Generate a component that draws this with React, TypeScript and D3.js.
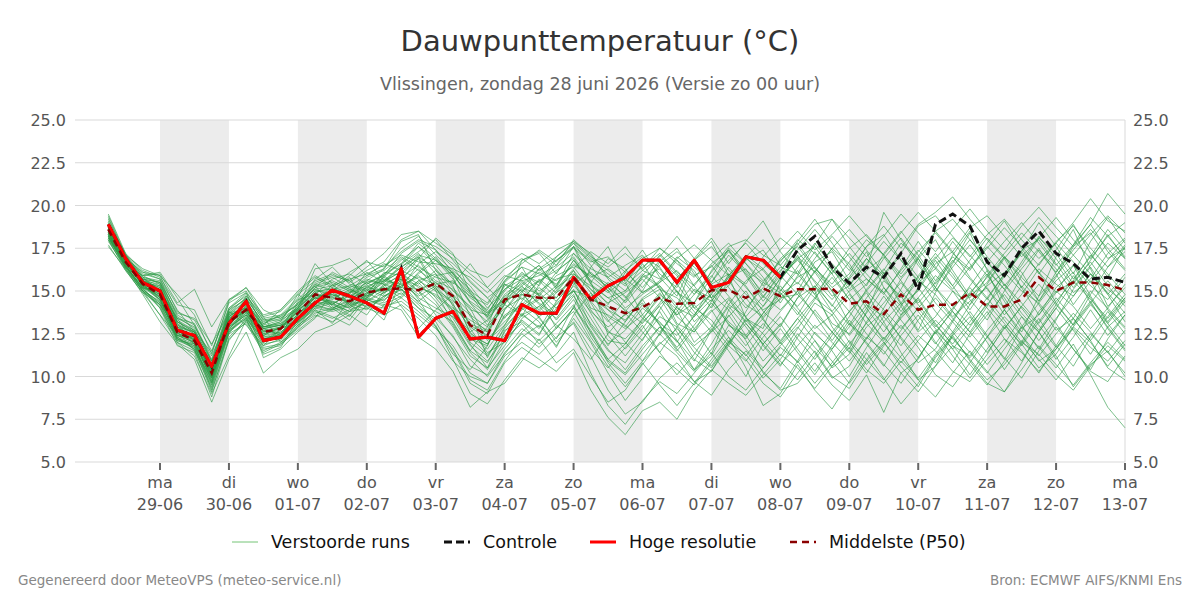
import React from "react";
import * as d3 from "d3";

// Forecast steps: every 6 hours from 28-06 06:00; hours are counted from 29-06 00:00.
const FIRST_HOUR = -18;
const STEP_HOURS = 6;
const STEP_COUNT = 60;
const forecastHours: number[] = d3.range(STEP_COUNT).map((i) => FIRST_HOUR + i * STEP_HOURS);

// Visible time window (hours from 29-06 00:00)
const X_START_HOUR = -29.6;
const X_END_HOUR = 336;

const dayNames = ["ma", "di", "wo", "do", "vr", "za", "zo", "ma", "di", "wo", "do", "vr", "za", "zo", "ma"];
const dayDates = ["29-06", "30-06", "01-07", "02-07", "03-07", "04-07", "05-07", "06-07", "07-07", "08-07", "09-07", "10-07", "11-07", "12-07", "13-07"];
const shadedDays = [0, 2, 4, 6, 8, 10, 12];
const yTicks = [5, 7.5, 10, 12.5, 15, 17.5, 20, 22.5, 25];

// High resolution run (10 days)
const hresRun = [
  18.9, 16.9, 15.5, 15.0, 12.7, 12.4, 10.6, 13.1, 14.4, 12.1,
  12.3, 13.4, 14.3, 15.05, 14.7, 14.3, 13.7, 16.3, 12.3, 13.4,
  13.8, 12.2, 12.3, 12.1, 14.2, 13.7, 13.7, 15.8, 14.5, 15.3,
  15.8, 16.8, 16.8, 15.5, 16.8, 15.2, 15.5, 17.0, 16.8, 15.8,
];

// Control run
const controlRun = [
  18.9, 16.9, 15.5, 15.0, 12.7, 12.4, 10.6, 13.1, 14.4, 12.1,
  12.3, 13.4, 14.3, 15.05, 14.7, 14.3, 13.7, 16.3, 12.3, 13.4,
  13.8, 12.2, 12.3, 12.1, 14.2, 13.7, 13.7, 15.8, 14.5, 15.3,
  15.8, 16.8, 16.8, 15.5, 16.8, 15.2, 15.5, 17.0, 16.8, 15.8,
  17.4, 18.2, 16.4, 15.45, 16.4, 15.8, 17.2, 15.05, 18.9, 19.5,
  18.8, 16.7, 15.9, 17.5, 18.5, 17.2, 16.6, 15.7, 15.8, 15.5,
];

// Ensemble median
const medianRun = [
  18.6, 16.7, 15.4, 14.8, 12.6, 12.1, 10.2, 13.2, 13.9, 12.6,
  12.8, 13.7, 14.8, 14.6, 14.4, 14.9, 15.1, 15.15, 15.05, 15.45,
  14.7, 13.0, 12.4, 14.5, 14.8, 14.6, 14.6, 15.8, 14.5, 14.1,
  13.7, 14.05, 14.6, 14.25, 14.3, 15.05, 15.05, 14.6, 15.15, 14.7,
  15.1, 15.1, 15.15, 14.25, 14.4, 13.65, 14.8, 13.9, 14.2, 14.2,
  14.9, 14.1, 14.1, 14.5, 15.8, 15.0, 15.5, 15.5, 15.35, 15.05,
];

// Perturbed ensemble members
const perturbedRuns: number[][] = [
  [18.9,16.9,15.6,15.2,12.9,12.3,10.0,13.5,14.2,12.4, 12.9,13.9,15.0,14.9,14.2,15.3,15.6,16.4,17.2,16.0, 14.1,12.2,11.8,13.9,15.2,14.8,13.6,15.4,16.1,15.2, 14.4,15.8,16.3,15.0,13.2,14.1,16.0,15.3,13.8,12.9, 14.6,16.2,15.0,13.1,12.2,14.0,15.7,16.9,15.2,13.8, 12.6,14.1,15.9,17.2,16.1,14.3,13.0,14.8,16.4,17.3],
  [18.2,16.5,15.1,14.3,12.2,11.8,9.6,12.9,13.6,12.0, 12.5,13.2,14.5,15.1,14.8,14.0,14.6,15.5,14.3,13.8, 13.2,11.5,10.8,12.6,13.9,14.5,15.3,16.8,15.6,12.4, 11.2,12.5,13.8,12.1,10.9,12.7,14.2,13.5,11.8,10.6, 12.3,13.9,12.6,11.4,13.2,14.7,13.3,12.0,10.8,12.5, 13.8,12.4,11.0,12.9,14.3,13.1,11.6,10.4,12.2,13.6],
  [19.3,17.0,16.0,15.7,13.5,12.8,10.8,13.8,14.6,13.1, 13.4,14.3,15.4,15.8,15.2,15.6,16.3,17.5,18.2,17.1, 16.2,15.3,14.0,15.1,16.0,15.5,16.4,17.2,16.3,15.8, 16.5,17.1,16.0,15.2,16.8,17.6,16.2,15.4,17.0,18.1, 17.3,16.1,17.5,18.6,17.4,16.0,17.2,18.8,19.4,18.2, 17.0,18.3,19.2,18.0,16.9,17.8,19.0,20.4,19.1,18.5],
  [18.0,16.3,15.0,14.1,12.0,11.2,9.0,11.2,13.3,11.5, 12.0,12.8,13.9,13.5,13.0,14.2,14.0,14.6,13.8,12.9, 11.6,9.8,9.2,10.9,12.3,13.0,11.8,13.4,12.0,10.2, 8.6,9.9,11.2,10.4,9.5,10.8,12.1,11.0,9.6,8.8, 10.2,11.5,10.0,9.3,10.9,12.0,10.6,9.4,11.1,12.3, 11.0,9.8,10.7,12.0,11.3,10.1,9.2,10.6,11.8,10.9],
  [18.7,16.8,15.8,15.0,13.0,12.5,10.4,13.0,14.0,12.8, 13.0,13.5,14.6,14.2,14.9,15.3,14.8,16.0,15.4,16.2, 15.0,14.1,13.2,14.8,15.6,15.9,16.5,17.6,16.0,15.2, 14.0,14.8,15.5,16.2,15.0,14.4,15.8,16.9,16.2,15.0, 16.4,17.8,16.5,15.1,16.2,17.0,15.6,14.3,15.5,16.8, 15.7,14.5,16.0,17.4,18.0,16.6,15.2,16.5,17.8,16.9],
  [18.4,16.6,15.5,14.6,12.4,12.0,10.1,13.3,13.8,12.5, 12.7,14.0,14.9,14.3,13.6,14.5,15.4,15.0,16.1,17.0, 15.8,13.5,12.6,14.2,13.6,14.1,15.0,16.2,14.9,13.5, 12.8,13.6,14.9,13.5,12.6,13.8,14.6,13.2,14.1,15.3, 14.0,12.8,13.6,14.8,13.5,12.2,13.4,14.5,13.0,11.9, 13.2,14.6,13.3,12.0,13.8,15.0,14.1,12.8,14.0,15.4],
  [19.0,17.1,15.9,16.0,14.3,15.1,12.9,14.5,15.0,13.4, 13.6,14.6,16.6,15.4,14.6,15.0,15.8,16.8,17.6,16.5, 15.3,12.8,11.4,12.0,13.3,12.5,14.0,15.1,13.0,11.6, 10.4,11.8,12.9,11.5,12.8,13.9,12.3,11.2,12.6,13.8, 15.0,13.6,12.1,13.5,15.1,16.3,15.0,13.8,12.5,13.9, 15.3,16.7,15.4,14.0,12.7,14.2,15.9,14.6,13.1,14.4],
  [18.5,16.8,15.3,14.5,12.3,11.6,9.4,12.6,13.5,11.8, 12.2,13.1,14.0,13.8,14.1,14.6,14.3,14.9,14.0,13.0, 11.0,9.0,8.4,9.8,11.1,10.5,11.3,12.6,10.2,8.3, 7.2,8.6,9.7,9.0,10.2,11.4,10.0,9.2,10.5,11.7, 10.9,9.6,10.8,12.1,11.0,9.8,11.2,12.4,11.5,10.3, 9.7,11.0,12.2,11.4,10.3,11.6,12.8,11.7,10.9,12.1],
  [18.8,16.9,15.7,15.5,13.2,12.6,10.6,13.6,14.4,12.9, 13.2,14.1,15.2,15.5,15.0,15.8,16.2,17.0,16.4,15.8, 15.5,14.7,14.2,15.6,16.4,16.0,15.4,16.6,15.8,16.3, 15.6,16.4,17.2,16.1,15.3,16.6,17.4,16.2,15.5,16.8, 17.6,16.3,15.4,16.7,18.0,17.1,16.0,17.3,18.4,17.2, 16.3,17.5,18.7,17.6,16.5,17.9,18.8,17.5,16.4,17.7],
  [18.3,16.4,15.2,14.9,12.7,12.2,10.3,12.8,13.7,12.3, 12.6,13.4,14.4,14.0,14.5,15.1,14.7,15.3,15.9,15.1, 14.4,13.6,12.9,14.0,14.6,13.8,14.9,15.6,14.6,13.9, 13.3,14.5,15.1,14.6,13.6,14.9,15.6,14.2,13.5,14.8, 15.5,14.6,13.8,15.0,15.7,14.9,13.6,14.6,15.9,15.0, 14.2,15.3,16.1,15.0,14.3,15.6,16.5,15.3,14.5,15.8],
  [18.6,16.6,15.4,14.4,12.5,12.3,10.2,13.1,13.9,12.6, 12.8,13.8,14.7,14.8,14.4,15.2,15.0,15.6,14.8,15.9, 16.1,14.9,13.8,14.5,15.3,14.2,13.4,14.7,13.1,11.9, 12.7,14.0,13.2,12.0,13.6,14.8,13.9,12.4,13.7,14.9, 13.8,12.5,11.6,12.9,14.2,13.0,11.8,13.3,14.6,13.4, 12.3,13.6,14.8,13.5,12.1,13.4,14.7,16.0,14.9,13.7],
  [18.1,16.4,15.0,14.2,12.1,11.9,9.9,12.7,13.4,12.2, 12.4,13.5,14.2,14.5,15.1,14.7,15.2,14.8,15.6,16.0, 14.8,12.5,11.9,13.5,14.1,14.9,14.0,15.3,14.3,12.7, 11.6,12.8,14.2,15.0,13.8,12.6,13.5,14.6,13.3,12.1, 13.4,14.6,15.8,14.5,13.1,14.3,15.5,14.2,12.9,14.0, 15.2,14.0,12.8,14.1,15.4,14.2,13.0,14.3,15.6,14.4],
  [19.5,17.2,16.2,15.8,14.2,13.9,11.8,14.5,15.2,13.5, 13.8,14.8,15.6,16.0,15.5,16.2,16.7,18.0,18.5,17.8, 17.1,16.2,15.8,16.5,17.2,16.6,17.4,17.9,17.0,16.4, 17.2,16.3,17.5,16.8,15.9,16.4,17.6,18.0,17.1,16.5, 17.7,18.9,19.2,18.1,17.0,18.2,19.5,18.4,17.3,18.6, 19.8,18.5,17.4,18.8,19.9,18.7,17.6,18.9,20.7,19.5],
  [18.5,16.7,15.3,14.7,12.8,12.4,10.5,13.4,14.1,12.7, 12.9,13.6,14.6,14.4,14.0,14.8,15.5,16.2,15.7,14.6, 13.4,11.8,10.9,12.2,13.1,11.9,12.8,14.0,12.6,10.8, 9.6,10.9,11.9,12.8,11.7,10.6,12.0,13.1,11.9,10.7, 11.8,13.0,12.0,10.9,12.2,13.5,12.3,11.1,12.6,13.8, 12.6,11.4,12.8,14.1,13.0,11.7,12.9,14.2,13.1,11.8],
  [18.9,16.9,15.5,15.3,13.1,12.0,10.0,13.3,14.3,12.2, 12.3,14.3,15.1,14.7,14.9,15.5,15.9,16.6,17.8,16.9, 16.0,15.1,13.5,15.0,16.1,15.3,16.8,17.5,16.7,17.0, 16.1,15.2,16.5,17.3,16.4,15.5,16.8,17.8,16.6,15.7, 16.9,17.6,16.2,15.3,16.6,17.9,16.8,15.6,16.9,18.1, 17.1,15.9,17.2,18.4,17.3,16.1,17.4,18.6,17.5,16.3],
  [18.2,16.5,15.2,14.0,11.8,11.4,8.8,12.2,13.2,11.6, 11.8,12.9,13.6,13.2,13.8,14.0,13.6,14.2,13.4,12.4, 10.9,10.0,9.6,11.2,12.0,11.3,12.3,13.1,11.2,9.2, 7.8,8.5,9.9,10.8,9.7,8.9,10.4,11.5,10.3,9.2, 9.6,10.8,9.5,8.6,10.1,7.9,10.2,9.1,10.6,11.8, 10.7,9.5,10.9,12.1,11.0,9.8,11.2,12.5,11.4,10.2],
  [18.7,16.9,15.6,15.1,12.7,12.1,10.3,13.7,14.0,12.9, 13.1,13.7,14.3,14.9,15.3,15.0,15.7,15.2,16.6,17.3, 16.6,15.6,14.6,15.4,14.5,15.6,16.2,16.9,15.4,14.6, 15.0,16.0,15.3,14.2,15.4,16.5,15.2,14.0,15.2,16.4, 16.0,14.8,16.1,17.2,16.0,14.9,16.2,17.4,16.3,15.1, 16.4,17.6,16.5,15.2,16.6,17.8,16.7,15.5,16.8,18.0],
  [18.4,16.6,15.4,14.5,12.4,12.0,9.8,12.9,13.8,12.4, 12.6,13.3,14.4,14.2,13.8,14.4,14.9,15.4,14.7,15.3, 14.2,12.9,12.2,13.2,14.3,13.5,14.2,15.0,13.8,12.9, 13.6,14.3,13.1,12.4,13.5,14.5,13.2,12.3,13.4,14.6, 14.8,13.7,12.6,13.8,15.0,13.9,12.8,14.0,15.2,14.1, 13.0,14.2,15.4,14.3,13.1,14.4,15.6,14.5,13.4,14.6],
  [18.8,17.0,15.9,15.4,13.3,12.7,10.6,13.9,14.5,13.2, 13.5,14.2,15.3,15.6,15.1,14.6,15.3,16.0,15.2,14.8, 14.0,13.3,12.7,14.6,15.5,14.7,15.9,16.4,15.1,14.3, 14.9,15.7,14.6,13.6,14.8,15.9,14.7,13.5,14.7,15.9, 16.8,15.6,14.5,15.7,16.9,15.7,14.6,15.8,17.0,15.8, 14.6,15.8,17.0,15.8,14.7,15.9,17.1,16.0,14.8,16.0],
  [18.0,16.2,14.9,13.6,12.0,11.5,9.3,12.5,13.1,11.4, 11.9,13.0,13.8,13.4,13.9,14.3,14.5,15.1,14.0,13.4, 12.4,10.6,10.1,11.6,12.8,12.1,13.1,14.2,12.3,10.9, 10.1,11.3,12.5,11.4,10.3,11.6,12.7,11.6,10.5,11.8, 12.9,11.7,10.6,11.9,13.1,12.0,10.8,12.1,13.3,12.2, 11.1,12.3,13.5,12.4,11.2,12.5,13.7,12.6,11.4,12.7],
  [18.6,16.8,15.6,14.9,12.6,11.9,10.0,13.0,13.7,12.1, 12.7,14.4,15.3,14.1,13.5,14.8,16.1,15.9,17.0,16.3, 15.2,14.0,12.1,13.0,14.4,15.7,14.9,16.2,14.0,13.6, 13.0,12.1,13.9,15.4,14.0,13.3,12.0,13.8,15.5,14.9, 13.6,15.2,16.6,15.5,14.0,12.6,14.1,15.9,17.2,16.0, 14.5,13.3,15.0,16.3,17.5,16.0,14.2,15.6,13.9,12.8],
  [19.1,17.0,15.8,15.6,13.6,13.0,10.9,13.9,14.8,13.3, 13.3,13.9,15.7,16.4,15.4,15.1,16.0,16.6,17.3,18.0, 16.8,15.5,14.6,13.4,14.9,16.3,17.0,17.8,16.5,15.0, 13.8,15.0,16.7,17.5,16.0,14.6,15.9,17.0,18.0,16.5, 15.4,16.9,18.2,17.0,15.7,14.8,16.3,17.9,16.4,15.3, 16.8,18.1,17.0,15.6,14.4,16.1,17.7,18.9,17.3,16.2],
  [17.9,16.4,15.0,14.4,12.9,12.6,10.7,13.4,13.9,12.8, 13.0,13.2,14.1,14.6,15.0,14.5,14.2,14.7,15.6,15.0, 14.3,12.0,11.2,12.8,14.0,14.6,13.3,14.5,12.9,11.5, 10.8,12.2,13.5,12.9,11.4,10.5,11.9,13.3,12.1,10.9, 9.8,11.2,12.6,11.5,10.2,11.8,13.0,11.7,10.1,9.4, 10.8,12.3,11.1,9.9,11.5,12.9,11.6,10.3,9.7,11.2],
  [18.5,16.6,15.4,14.6,12.5,12.2,10.4,13.1,14.0,12.4, 12.9,13.8,14.9,15.2,14.7,15.5,14.9,15.8,16.5,15.6, 15.1,13.9,13.6,15.3,15.9,15.0,15.7,16.0,15.3,14.6, 13.9,13.1,14.3,15.8,16.6,15.4,14.2,15.6,16.3,15.1, 14.1,15.3,14.2,13.0,14.6,15.9,17.1,15.8,14.3,13.2, 14.8,16.2,15.1,13.7,12.6,14.0,15.5,16.7,15.3,14.1],
  [18.3,16.5,15.1,14.2,12.3,11.7,9.5,12.6,13.4,11.9, 12.1,13.0,13.7,14.0,14.4,14.1,14.7,15.1,14.2,13.2, 11.5,9.6,9.0,10.8,11.7,11.0,10.3,11.4,9.2,7.6, 6.6,8.0,8.5,7.5,9.2,10.4,9.6,8.9,10.1,11.3, 10.5,9.3,10.6,11.7,10.4,9.6,10.9,9.8,8.8,10.2, 11.5,10.3,9.1,10.4,11.8,10.7,9.5,10.8,12.0,11.0],
  [18.7,16.7,15.5,15.0,13.4,12.9,11.2,13.5,14.2,13.0, 13.3,14.5,14.8,15.7,16.0,15.4,15.9,17.2,17.9,17.4, 16.4,15.0,14.3,15.8,16.6,17.4,16.7,17.8,16.9,16.2, 15.4,16.9,17.5,16.6,15.8,16.9,17.8,16.6,15.6,16.7, 18.0,17.2,16.0,17.5,18.3,17.1,15.8,17.0,18.5,19.2, 18.0,16.7,17.9,19.0,17.8,16.5,17.7,19.3,18.2,17.0],
  [18.6,16.9,15.7,15.3,12.8,12.4,10.3,13.3,13.8,12.2, 12.2,13.6,14.8,14.2,14.9,15.7,15.4,15.9,15.0,14.2, 12.9,11.2,10.5,11.8,13.4,14.1,13.0,12.2,11.0,12.5, 13.7,12.6,11.4,12.9,14.2,13.0,11.8,10.9,12.3,13.5, 12.2,11.0,12.4,13.8,12.5,11.3,12.7,14.0,12.8,11.6, 12.9,14.3,13.1,11.8,13.2,14.6,13.4,12.1,13.5,14.8],
  [18.4,16.6,15.3,14.8,12.2,11.8,9.7,12.8,13.6,12.5, 12.8,13.3,14.7,15.0,14.1,14.9,15.6,15.4,16.3,15.2, 13.8,12.6,11.6,13.0,14.8,13.9,15.2,15.9,14.4,13.2, 14.5,15.9,15.2,13.1,12.6,14.4,15.8,16.3,14.7,13.9, 15.0,16.7,17.3,15.6,14.2,13.5,15.1,16.9,18.0,16.2, 14.7,15.5,17.0,16.1,14.4,15.8,17.6,18.4,16.9,17.5],
  [19.2,17.1,16.1,15.9,13.8,13.3,11.5,14.0,14.9,13.6, 13.9,15.0,15.9,15.3,16.1,16.7,16.4,17.3,18.0,17.6, 16.9,16.0,15.2,16.3,16.9,16.2,16.8,17.6,16.8,16.0, 15.3,16.2,15.7,16.9,17.7,16.8,15.9,17.1,16.3,17.4, 18.5,17.4,18.3,19.4,18.2,17.1,18.4,19.6,18.5,17.3, 18.7,19.4,18.2,17.0,18.1,19.3,18.0,16.9,18.2,19.0],
  [18.2,16.4,15.2,14.7,12.4,12.3,10.1,13.2,13.9,12.7, 12.5,13.9,14.6,14.8,14.3,13.9,14.7,15.3,15.8,15.4, 15.6,14.4,13.7,14.3,15.1,14.3,13.6,15.0,14.7,15.5, 14.7,13.4,12.6,13.8,15.1,14.6,13.0,12.2,13.7,15.0, 16.2,14.8,13.1,12.5,14.0,15.6,14.7,13.2,11.9,13.3, 14.9,16.0,14.4,12.8,13.6,15.2,16.1,14.3,12.9,13.8],
  [18.5,16.7,15.4,14.9,12.7,12.0,10.1,13.2,14.1,12.6, 12.9,13.9,14.6,14.3,14.7,15.2,15.8,15.2,16.0,16.8, 15.7,14.3,13.5,15.4,15.0,15.6,14.6,16.0,15.1,13.9, 12.9,14.2,13.0,11.7,13.0,14.3,13.1,11.8,13.1,12.0, 10.8,12.1,10.9,9.6,11.0,12.3,11.1,9.9,11.3,12.6, 11.4,10.2,11.6,12.9,11.7,10.5,11.9,10.1,8.2,7.0],
  [18.9,16.8,15.7,15.1,13.1,12.5,10.5,13.4,14.3,12.9, 13.0,14.1,15.4,15.0,14.6,15.4,16.0,16.9,16.2,15.5, 14.5,13.1,12.6,14.3,15.3,16.1,15.6,16.5,15.9,15.0, 16.2,17.0,16.4,14.9,14.3,15.8,17.5,16.6,15.3,16.9, 17.8,16.4,15.2,16.0,17.6,18.3,16.8,15.5,16.3,17.9, 16.6,15.1,14.0,15.9,17.4,16.3,14.9,15.7,17.2,18.1],
  [18.1,16.5,15.1,14.3,12.6,12.4,10.6,13.6,14.0,12.3, 12.4,13.7,14.4,14.7,15.2,14.4,15.1,15.7,14.6,14.0, 13.5,12.3,11.3,12.4,13.7,12.8,14.4,15.5,13.7,12.1, 11.9,13.2,14.1,12.6,11.0,10.3,11.8,13.4,12.5,11.2, 12.8,14.3,13.6,12.0,10.7,11.9,13.5,14.6,13.1,11.8, 11.2,12.7,13.9,12.4,10.9,11.6,13.1,14.4,12.8,11.5],
  [18.8,16.8,15.6,15.4,13.2,12.7,10.9,13.7,14.6,13.1, 13.6,14.2,15.1,15.3,15.7,16.0,16.5,17.1,16.7,16.6, 16.3,15.8,14.9,15.9,15.6,14.8,16.1,17.0,15.6,14.9, 15.7,14.9,15.6,17.0,16.2,14.6,15.3,16.8,17.4,15.9, 14.8,16.1,17.5,16.6,15.0,16.2,17.8,16.9,15.4,16.7, 18.0,16.8,15.3,16.5,18.1,17.2,15.7,17.0,18.6,17.4],
  [18.3,16.6,15.3,14.6,12.1,11.7,9.6,12.7,13.5,12.0, 12.3,13.1,14.2,13.9,14.3,14.7,15.2,14.6,15.5,14.4, 13.0,11.4,10.4,12.1,13.6,12.9,13.8,14.8,12.5,11.0, 10.2,11.6,12.9,12.1,10.4,11.2,13.0,12.4,10.9,12.0, 13.4,12.1,10.5,11.3,12.9,13.8,12.2,10.8,11.6,13.2, 12.0,10.7,11.9,13.5,12.6,11.0,12.3,13.9,12.4,13.6],
  [18.6,16.7,15.4,14.8,12.9,12.3,10.2,13.1,13.8,12.6, 12.8,13.6,14.8,14.6,14.4,14.9,15.1,15.2,15.1,15.5, 14.7,13.0,12.4,14.5,14.8,14.6,14.6,15.8,14.5,14.1, 13.2,14.6,15.3,14.0,13.5,15.4,16.0,14.8,13.9,14.5, 15.8,16.4,15.0,13.8,14.9,13.2,14.3,15.6,14.8,13.5, 14.4,15.2,13.6,14.8,16.3,15.4,14.7,16.0,15.1,14.3],
  [19.0,17.0,15.8,15.5,13.4,13.1,11.0,14.0,14.7,13.3, 13.5,14.5,15.5,15.9,15.6,16.4,17.2,18.3,18.5,17.4, 16.0,14.6,13.9,15.6,16.8,17.3,16.5,18.0,17.1,15.7, 14.6,15.9,17.1,16.0,14.8,16.1,17.3,16.1,14.9,16.2, 17.4,18.6,17.4,16.2,17.6,18.8,17.5,18.9,19.6,20.5, 19.2,18.0,16.9,18.1,19.3,18.2,17.1,18.3,19.4,18.4],
  [18.4,16.5,15.2,14.5,12.3,11.9,9.9,12.9,13.6,12.2, 12.5,13.5,14.1,14.4,14.0,14.6,15.3,15.7,15.3,14.7, 13.9,12.4,11.9,13.6,14.2,15.2,14.4,15.6,13.9,12.6, 12.2,13.3,14.8,13.9,12.0,12.9,14.5,13.1,11.9,13.0, 14.6,15.3,13.8,12.4,13.7,15.2,14.1,12.6,13.5,15.0, 13.6,12.3,13.9,15.3,14.2,12.7,13.4,15.0,14.0,12.9],
  [18.7,16.9,15.6,15.2,13.0,12.6,10.6,13.5,14.2,12.9, 13.1,14.0,15.0,15.1,15.3,15.9,16.6,16.2,17.1,16.8, 15.9,14.8,13.4,14.7,15.4,16.3,15.3,17.2,16.0,15.4, 14.3,15.5,16.8,15.9,14.0,14.8,16.4,15.2,14.1,15.8, 17.0,16.1,14.7,15.3,16.9,15.9,14.2,15.0,16.6,17.3, 15.8,14.6,16.0,17.3,16.1,14.9,15.6,17.1,16.0,14.8],
  [18.2,16.3,15.0,14.0,12.2,11.6,9.1,12.3,13.3,11.7, 11.9,12.7,13.5,13.9,14.2,14.5,14.1,14.4,13.6,12.8, 11.8,10.2,9.6,11.4,12.5,11.7,12.9,13.8,12.1,10.6, 9.4,10.7,12.0,11.2,9.7,10.3,12.0,11.3,9.9,11.0, 12.5,11.4,9.9,10.6,12.3,11.5,10.2,11.0,12.7,11.6, 10.1,11.6,13.0,11.9,10.5,11.3,12.9,12.0,10.6,11.9],
  [18.0,16.6,15.9,16.1,14.6,13.0,10.9,13.0,14.1,11.1, 11.6,12.6,13.4,15.0,15.8,14.2,13.3,15.6,16.9,15.0, 13.1,11.5,12.9,15.5,16.4,14.7,12.8,14.0,16.4,17.6, 15.5,13.6,12.4,14.1,16.8,17.9,15.9,13.4,12.8,15.6, 17.1,15.0,12.9,11.6,13.8,16.1,14.3,12.7,14.9,16.6, 18.4,16.2,13.9,12.6,14.7,17.0,18.6,16.3,14.1,15.2],
  [17.6,16.3,14.8,13.2,11.9,11.0,8.5,11.0,12.6,10.2, 11.1,11.6,12.6,13.0,13.6,12.9,14.2,13.9,12.3,11.6, 10.3,8.2,9.1,9.6,10.9,12.2,10.8,11.6,10.0,8.5, 9.2,10.8,9.5,8.3,9.6,11.0,12.3,10.5,8.3,9.0, 10.7,9.2,8.1,9.7,11.4,9.9,8.4,9.6,11.2,12.4, 10.9,9.6,9.1,10.8,12.6,11.2,9.4,10.7,11.5,10.0],
  [19.4,17.1,16.3,15.9,14.8,13.6,11.3,14.4,15.2,13.9, 13.4,14.0,16.3,16.5,16.9,15.9,16.3,17.9,18.3,16.2, 15.4,16.6,15.2,14.2,16.8,17.2,16.0,17.6,15.4,14.2, 16.1,17.4,15.8,14.7,16.9,18.1,16.6,17.9,19.1,17.3, 16.0,17.7,19.2,17.6,16.3,19.6,18.0,16.5,15.2,17.1, 18.5,17.0,15.8,17.3,19.0,17.6,16.0,17.9,19.3,17.8],
  [18.4,16.5,15.0,13.6,12.4,12.2,9.7,13.8,13.0,11.8, 12.8,13.2,13.9,13.1,14.5,15.6,15.4,14.1,12.8,13.9, 14.8,13.7,11.1,12.9,14.0,13.2,11.7,13.6,14.9,13.3, 12.0,10.9,12.5,14.1,12.8,11.3,13.9,15.0,13.4,11.9, 13.1,14.5,16.3,14.9,13.5,12.1,13.6,15.2,13.8,12.6, 14.2,15.9,14.6,13.0,11.6,13.3,15.1,16.4,14.8,13.2],
  [18.1,16.8,15.5,15.0,13.4,12.0,10.4,12.7,14.0,12.9, 13.2,14.8,14.1,13.9,14.8,16.1,15.5,16.4,17.0,15.3, 14.7,12.6,13.3,14.6,13.5,15.4,17.0,17.9,17.2,15.8, 15.0,16.6,15.1,13.6,14.3,16.2,17.4,15.9,14.4,15.7, 16.9,15.5,14.1,15.8,17.3,15.2,13.8,15.1,16.8,15.3, 13.9,15.4,16.9,15.2,13.6,14.9,16.5,14.7,13.2,14.6],
  [18.9,17.2,15.2,14.8,12.6,11.5,9.9,13.0,14.7,13.5, 12.0,12.9,14.2,15.4,14.2,13.6,15.0,15.8,14.5,12.9, 11.3,10.4,11.8,13.9,15.0,13.4,12.2,14.1,12.7,11.0, 11.9,13.4,14.6,13.0,11.8,12.6,14.1,12.9,11.5,12.8, 11.4,10.1,11.6,13.1,11.9,10.6,12.4,13.6,12.0,10.8, 12.5,13.8,12.2,10.9,12.6,14.0,12.7,11.3,12.9,11.6],
  [18.6,16.4,15.7,15.5,13.7,13.4,11.9,13.7,14.4,13.0, 13.9,14.9,15.8,15.2,15.9,16.8,15.6,16.1,16.9,18.1, 17.2,14.9,13.7,15.1,15.7,16.5,15.1,16.3,17.3,16.6, 17.6,16.2,17.0,18.2,16.9,15.5,17.1,16.0,14.6,16.1, 17.9,19.2,17.8,16.4,15.3,17.2,18.5,17.1,15.6,17.0, 16.2,17.8,19.1,17.5,16.0,17.4,18.9,17.2,15.8,17.6],
  [18.3,16.7,15.6,14.9,13.2,12.6,10.0,12.5,13.9,12.8, 12.4,13.2,14.9,14.0,13.3,14.6,15.9,15.1,14.4,15.2, 13.6,11.9,10.5,12.7,13.2,12.4,14.3,15.0,13.4,11.8, 13.2,14.5,13.0,11.6,10.4,11.9,13.6,12.1,10.2,9.3, 10.9,12.6,11.5,10.0,11.7,13.2,11.4,9.8,10.6,12.4, 13.5,12.0,10.4,11.9,13.4,11.8,10.6,12.3,13.8,12.5],
  [18.8,16.9,16.1,15.7,13.9,12.6,11.4,14.3,14.9,12.8, 13.0,14.0,15.2,16.1,15.6,14.7,15.6,16.5,17.6,16.8, 16.1,14.3,13.0,14.2,15.8,16.5,15.2,16.8,15.5,16.9, 16.3,14.9,15.5,16.8,15.3,14.0,15.6,17.0,15.8,14.3, 15.9,17.3,16.0,14.5,15.4,16.9,18.1,16.7,15.0,16.4, 17.7,16.3,15.1,16.7,18.2,16.9,15.4,16.8,18.3,16.9],
  [17.7,16.2,14.9,14.2,12.8,11.9,9.2,12.1,13.4,11.3, 11.7,13.3,14.0,14.3,13.8,14.9,14.4,15.7,15.0,13.6, 12.3,11.0,10.0,11.3,12.6,13.5,12.0,13.2,11.6,10.5, 11.7,13.0,11.4,10.1,11.3,12.8,11.5,10.0,11.9,13.1, 11.6,10.3,11.8,13.3,12.0,10.7,9.6,11.1,12.6,11.2, 9.9,11.3,12.9,11.5,10.2,11.8,13.4,12.1,10.5,9.8],
];

const FONT = "'DejaVu Sans', 'Liberation Sans', sans-serif";
const PLOT = { left: 75, right: 1125, top: 120, bottom: 462 };

const COLORS = {
  ensemble: "#2b9a45",
  ensembleLegend: "#74c476",
  control: "#111111",
  hres: "#ff0000",
  median: "#8b0000",
  band: "#ececec",
  grid: "#d9d9d9",
  tick: "#555555",
};

export default function App() {
  const x = d3.scaleLinear().domain([X_START_HOUR, X_END_HOUR]).range([PLOT.left, PLOT.right]);
  const y = d3.scaleLinear().domain([5, 25]).range([PLOT.bottom, PLOT.top]);

  const pathOf = (values: number[]) =>
    d3
      .line<number>()
      .x((_, i) => x(forecastHours[i]))
      .y((v) => y(v))(values) || "";

  const legendItems = [
    { label: "Verstoorde runs", color: COLORS.ensembleLegend, width: 1, dash: undefined as string | undefined, x0: 232, tx: 271 },
    { label: "Controle", color: COLORS.control, width: 3, dash: "8,4", x0: 444, tx: 483 },
    { label: "Hoge resolutie", color: COLORS.hres, width: 3, dash: undefined, x0: 590, tx: 629 },
    { label: "Middelste (P50)", color: COLORS.median, width: 2.5, dash: "7,5", x0: 790, tx: 829 },
  ];

  return (
    <svg
      width={1200}
      height={600}
      style={{ position: "absolute", left: 0, top: 0, background: "#fff" }}
      fontFamily={FONT}
    >
      <rect x={0} y={0} width={1200} height={600} fill="#fff" />

      <text x={600} y={51} textAnchor="middle" fontSize={29} fill="#333">
        Dauwpunttemperatuur (°C)
      </text>
      <text x={600} y={90} textAnchor="middle" fontSize={17.5} fill="#666">
        Vlissingen, zondag 28 juni 2026 (Versie zo 00 uur)
      </text>

      {/* alternating day shading */}
      {shadedDays.map((d) => (
        <rect
          key={`band-${d}`}
          x={x(d * 24)}
          y={PLOT.top}
          width={x((d + 1) * 24) - x(d * 24)}
          height={PLOT.bottom - PLOT.top}
          fill={COLORS.band}
        />
      ))}

      {/* horizontal grid */}
      {yTicks.map((v) => (
        <line key={`grid-${v}`} x1={PLOT.left} x2={PLOT.right} y1={y(v)} y2={y(v)} stroke={COLORS.grid} strokeWidth={1} />
      ))}
      <line x1={PLOT.right} x2={PLOT.right} y1={PLOT.top} y2={PLOT.bottom} stroke={COLORS.grid} strokeWidth={1} />

      {/* y labels on both sides */}
      {yTicks.map((v) => (
        <g key={`ylab-${v}`} fontSize={16} fill={COLORS.tick}>
          <text x={66} y={y(v) + 6} textAnchor="end">
            {v.toFixed(1)}
          </text>
          <text x={1133} y={y(v) + 6} textAnchor="start">
            {v.toFixed(1)}
          </text>
        </g>
      ))}

      {/* day ticks and labels */}
      {dayNames.map((name, k) => (
        <g key={`day-${k}`}>
          <line x1={x(k * 24)} x2={x(k * 24)} y1={PLOT.bottom + 1} y2={PLOT.bottom + 8} stroke="#666" strokeWidth={2} />
          <text x={x(k * 24)} y={488} textAnchor="middle" fontSize={16} fill={COLORS.tick}>
            {name}
          </text>
          <text x={x(k * 24)} y={510} textAnchor="middle" fontSize={16} fill={COLORS.tick}>
            {dayDates[k]}
          </text>
        </g>
      ))}

      {/* perturbed members */}
      <g fill="none" stroke={COLORS.ensemble} strokeWidth={1} strokeOpacity={0.62} strokeLinejoin="round">
        {perturbedRuns.map((run, i) => (
          <path key={`run-${i}`} d={pathOf(run)} />
        ))}
      </g>

      <path d={pathOf(controlRun)} fill="none" stroke={COLORS.control} strokeWidth={3} strokeDasharray="8,4" />
      <path d={pathOf(hresRun)} fill="none" stroke={COLORS.hres} strokeWidth={3.2} strokeLinejoin="round" />
      <path d={pathOf(medianRun)} fill="none" stroke={COLORS.median} strokeWidth={2.5} strokeDasharray="7,5" />

      {/* legend */}
      {legendItems.map((item) => (
        <g key={item.label}>
          <line
            x1={item.x0}
            x2={item.x0 + 26}
            y1={542}
            y2={542}
            stroke={item.color}
            strokeWidth={item.width}
            strokeDasharray={item.dash}
          />
          <text x={item.tx} y={548} fontSize={17.5} fill="#111">
            {item.label}
          </text>
        </g>
      ))}

      <text x={18} y={585} fontSize={13.5} fill="#888">
        Gegenereerd door MeteoVPS (meteo-service.nl)
      </text>
      <text x={1182} y={585} fontSize={13.5} fill="#888" textAnchor="end">
        Bron: ECMWF AIFS/KNMI Ens
      </text>
    </svg>
  );
}
